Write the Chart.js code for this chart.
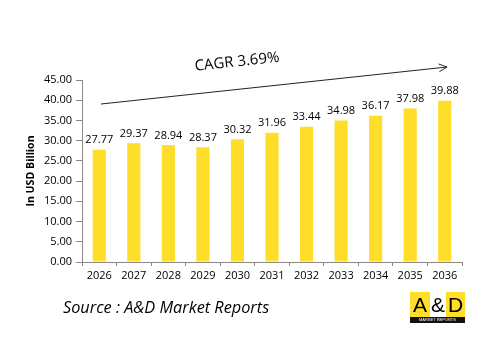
<!DOCTYPE html>
<html>
<head>
<meta charset="utf-8">
<script src="https://cdn.jsdelivr.net/npm/chart.js@4.4.0/dist/chart.umd.min.js"></script>
<style>
  body { margin: 0; background: #fff; }
  #wrap { position: relative; width: 497px; height: 357px; }
  #source {
    position: absolute; left: 63px; top: 296px;
    font: italic 16.3px "Open Sans", "Liberation Sans", sans-serif; color: #000;
  }
  #logo { position: absolute; left: 410px; top: 292px; width: 55px; }
  #logo .row { display: flex; height: 25px; }
  #logo .row div {
    font: 21px "Liberation Sans", sans-serif; line-height: 25px;
    text-align: center; color: #000;
  }
  #logo .strip {
    background: #111; color: #fff; height: 6px;
    font: 4px "Liberation Sans", sans-serif; line-height: 6px; text-align: center;
  }
</style>
</head>
<body>
<div id="wrap">
  <canvas id="chart" width="497" height="357"></canvas>
  <div id="source">Source : A&amp;D Market Reports</div>
  <div id="logo">
    <div class="row">
      <div style="background:#ffde2a;width:20px">A</div>
      <div style="background:#fff;width:16px">&amp;</div>
      <div style="background:#ffde2a;width:19px">D</div>
    </div>
    <div class="strip">MARKET REPORTS</div>
  </div>
</div>
<script>
var years = ["2026", "2027", "2028", "2029", "2030", "2031", "2032", "2033", "2034", "2035", "2036"];
var values = [27.77, 29.37, 28.94, 28.37, 30.32, 31.96, 33.44, 34.98, 36.17, 37.98, 39.88];
var cagrText = "CAGR 3.69%";
var axisTitle = "In USD Billion";

var font = "'Open Sans', 'Liberation Sans', sans-serif";

// labels over bars, axis title, CAGR arrow
var extras = {
    id: "extras",
    afterDatasetsDraw: function (chart) {
        var ctx = chart.ctx;
        var meta = chart.getDatasetMeta(0);
        ctx.save();
        ctx.fillStyle = "#000";
        ctx.font = "11px " + font;
        ctx.textAlign = "center";
        ctx.textBaseline = "bottom";
        meta.data.forEach(function (bar, i) {
            ctx.fillText(values[i].toFixed(2), bar.x, bar.y - 4);
        });

        // y axis title
        ctx.save();
        ctx.translate(31, 171);
        ctx.rotate(-Math.PI / 2);
        ctx.font = "bold 10.6px " + font;
        ctx.textBaseline = "middle";
        ctx.fillText(axisTitle, 0, 0);
        ctx.restore();

        // arrow
        var x1 = 101, y1 = 104, x2 = 447, y2 = 67;
        ctx.strokeStyle = "#222";
        ctx.lineWidth = 1;
        ctx.beginPath();
        ctx.moveTo(x1, y1);
        ctx.lineTo(x2, y2);
        var a = Math.atan2(y2 - y1, x2 - x1);
        ctx.moveTo(x2 - 9 * Math.cos(a - 0.45), y2 - 9 * Math.sin(a - 0.45));
        ctx.lineTo(x2, y2);
        ctx.lineTo(x2 - 9 * Math.cos(a + 0.45), y2 - 9 * Math.sin(a + 0.45));
        ctx.stroke();

        ctx.save();
        ctx.translate(237, 62);
        ctx.rotate(a);
        ctx.font = "15px " + font;
        ctx.textBaseline = "middle";
        ctx.fillText(cagrText, 0, 0);
        ctx.restore();
        ctx.restore();
    }
};

new Chart(document.getElementById("chart"), {
    type: "bar",
    data: {
        labels: years,
        datasets: [{
            data: values,
            backgroundColor: "#ffde2a",
            barPercentage: 0.38,
            categoryPercentage: 1
        }]
    },
    options: {
        responsive: false,
        animation: false,
        layout: { padding: { top: 80, right: 35, bottom: 75, left: 0 } },
        plugins: { legend: { display: false }, tooltip: { enabled: false } },
        scales: {
            x: {
                grid: { drawOnChartArea: false, drawTicks: true, tickLength: 4, color: "#888" },
                border: { color: "#888" },
                ticks: { color: "#000", font: { family: font, size: 11 }, padding: 3 },
                afterFit: function (s) { s.height = 20; }
            },
            y: {
                min: 0, max: 45,
                grid: { drawOnChartArea: false, drawTicks: true, tickLength: 6, color: "#888" },
                border: { color: "#888" },
                ticks: {
                    stepSize: 5, color: "#000", padding: 4,
                    font: { family: font, size: 11 },
                    callback: function (v) { return v.toFixed(2); }
                },
                afterFit: function (s) { s.width = 82; }
            }
        }
    },
    plugins: [extras]
});
</script>
</body>
</html>
